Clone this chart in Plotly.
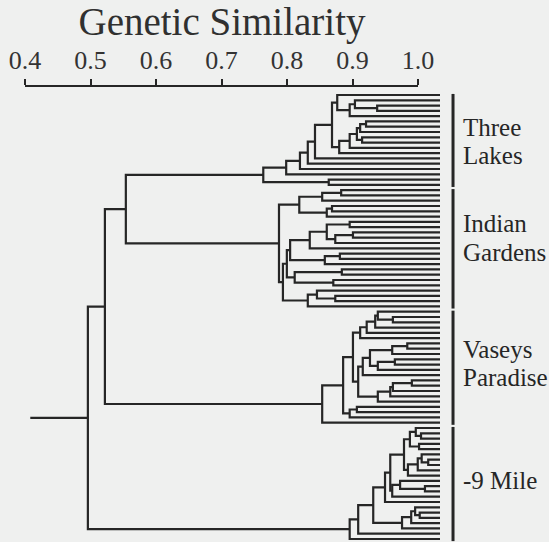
import plotly.graph_objects as go

# ---------------- data ----------------
GROUPS = ["Three Lakes", "Indian Gardens", "Vaseys Paradise", "-9 Mile"]
GROUP_LABEL_LINES = [["Three", "Lakes"], ["Indian", "Gardens"], ["Vaseys", "Paradise"], ["-9 Mile"]]
LEAF_COUNTS = [18, 23, 22, 22]
LEAF_SIMILARITY = 1.0

# merges inside each group: name -> (child_a, child_b, similarity)
# ints are leaves (local index, top to bottom); strings are earlier merges; the last one is the group root
THREE_LAKES = {
    "a": (2, 3, 0.904), "b": (1, "a", 0.870), "c": ("b", 4, 0.862), "d": (0, "c", 0.843),
    "e": (5, 6, 0.887), "f": ("e", 7, 0.878), "i": (8, 9, 0.881), "g": ("f", "i", 0.873),
    "h0": ("g", 10, 0.862), "h": ("h0", 11, 0.846), "j": ("d", "h", 0.835),
    "k": ("j", 12, 0.809), "l": ("k", 13, 0.798), "m": ("l", 14, 0.786), "n": ("m", 15, 0.765),
    "p": (16, 17, 0.830), "root": ("n", "p", 0.730),
}
INDIAN_GARDENS = {
    "q1": (0, 1, 0.849), "q2": ("q1", 2, 0.820), "q3": (3, 4, 0.835), "q4": ("q3", 5, 0.827),
    "q5": ("q2", "q4", 0.785),
    "r1": (6, 7, 0.862), "r2": (8, 9, 0.867), "r3": ("r2", 10, 0.840), "r4": ("r1", "r3", 0.827),
    "r5": ("r4", 11, 0.801), "r6a": (12, 13, 0.847), "r6": ("r6a", 14, 0.824), "r7": ("r5", "r6", 0.771),
    "s1": (15, 16, 0.850), "s2": (17, 18, 0.837), "s3": ("s1", "s2", 0.778), "r8": ("r7", "s3", 0.766),
    "t1": (20, 21, 0.840), "t2": (19, "t1", 0.812), "t3": ("t2", 22, 0.798),
    "u": ("r8", "t3", 0.760), "root": ("q5", "u", 0.754),
}
VASEYS_PARADISE = {
    "v1": (1, 2, 0.928), "v2": (0, "v1", 0.905), "v3": ("v2", 3, 0.901), "v4": ("v3", 4, 0.888),
    "v5": ("v4", 5, 0.878),
    "m1": (6, 7, 0.950), "m2": ("m1", 8, 0.927), "m3": (9, 10, 0.931), "m4": ("m3", 11, 0.905),
    "m5": ("m2", "m4", 0.893), "m6": ("m5", 12, 0.882),
    "m7": (13, 14, 0.957), "m8": ("m7", 15, 0.928), "m9": ("m8", 16, 0.924), "m10": ("m9", 17, 0.905),
    "m11": ("m6", "m10", 0.875), "n1": ("v5", "m11", 0.867),
    "w1": (18, 19, 0.873), "w2": ("w1", 20, 0.862), "n2": ("n1", "w2", 0.852),
    "root": ("n2", 21, 0.820),
}
NINE_MILE = {
    "a1": (1, 2, 0.971), "a2": (0, "a1", 0.963), "a3": (3, 4, 0.968), "a4": ("a2", "a3", 0.954),
    "b1": (6, 7, 0.982), "b2": (5, "b1", 0.972), "b3": ("b2", 8, 0.966), "b4": ("b3", 9, 0.951),
    "a5": ("a4", "b4", 0.945),
    "c1": (11, 12, 0.977), "c2": (10, "c1", 0.939), "c3": ("c2", 13, 0.927),
    "d1": ("a5", "c3", 0.924), "d2": ("d1", 14, 0.916),
    "e1": (16, 17, 0.969), "e2": (15, "e1", 0.962), "e3": ("e2", 18, 0.956), "e4": ("e3", 19, 0.942),
    "f1": ("d2", "e4", 0.898), "g1": ("f1", 20, 0.875), "root": ("g1", 21, 0.862),
}
GROUP_MERGES = [THREE_LAKES, INDIAN_GARDENS, VASEYS_PARADISE, NINE_MILE]

TOP_MERGES = {
    "X1": ("Three Lakes", "Indian Gardens", 0.520),
    "X2": ("X1", "Vaseys Paradise", 0.488),
    "R": ("X2", "-9 Mile", 0.462),
}
ROOT_STUB_END = 0.374

TICK_VALUES = [0.4, 0.5, 0.6, 0.7, 0.8, 0.9, 1.0]
TICK_LABELS = ["0.4", "0.5", "0.6", "0.7", "0.8", "0.9", "1.0"]
TITLE = "Genetic Similarity"

# ---------------- layout constants ----------------
W, H = 549, 542
FONT = "Liberation Serif, Times New Roman, serif"
INK = "#262626"
BG = "#eff0ef"
N = sum(LEAF_COUNTS)
PX_PER_UNIT = 654.5
LEAF_PX = 440.0
X_RANGE = [LEAF_SIMILARITY - LEAF_PX / PX_PER_UNIT, LEAF_SIMILARITY + (W - LEAF_PX) / PX_PER_UNIT]
TOP_PX, BOT_PX = 95.0, 539.0
STEP = (BOT_PX - TOP_PX) / (N - 1)
Y_RANGE = [(N - 1) + (H - BOT_PX) / STEP, -TOP_PX / STEP]

# ---------------- build dendrogram paths ----------------
xs, ys = [], []


def bracket(pa, pb, s):
    (xa, ya), (xb, yb) = pa, pb
    xs.extend([xa, s, s, xb, None])
    ys.extend([ya, ya, yb, yb, None])
    return (s, (ya + yb) / 2.0)


pos = {}
offset = 0
for gname, merges, n in zip(GROUPS, GROUP_MERGES, LEAF_COUNTS):
    local = {}
    for name, (a, b, s) in merges.items():
        pa = (LEAF_SIMILARITY, offset + a) if isinstance(a, int) else local[a]
        pb = (LEAF_SIMILARITY, offset + b) if isinstance(b, int) else local[b]
        local[name] = bracket(pa, pb, s)
    pos[gname] = local[list(merges)[-1]]
    offset += n

for name, (a, b, s) in TOP_MERGES.items():
    pos[name] = bracket(pos[a], pos[b], s)
rs, ry = pos[list(TOP_MERGES)[-1]]
xs.extend([ROOT_STUB_END, rs, None])
ys.extend([ry, ry, None])

fig = go.Figure()
fig.add_trace(go.Scatter(x=xs, y=ys, mode="lines", line=dict(color=INK, width=2.2),
                         hoverinfo="skip", showlegend=False))

# group bars
BAR_X = 1.0199
offset = 0
for n in LEAF_COUNTS:
    fig.add_trace(go.Scatter(x=[BAR_X, BAR_X], y=[offset - 0.2, offset + n - 1 + 0.4], mode="lines",
                             line=dict(color=INK, width=3), hoverinfo="skip", showlegend=False))
    offset += n

# invisible trace to carry the scale axis
fig.add_trace(go.Scatter(x=TICK_VALUES, y=[0] * len(TICK_VALUES), xaxis="x2", mode="markers",
                         marker=dict(opacity=0), hoverinfo="skip", showlegend=False))

# group labels (pixel-row positions of each text line)
LABEL_ROWS_PX = [[127.5, 155.0], [224.0, 252.5], [349.0, 377.5], [480.5]]
annotations = []
for lines, rows in zip(GROUP_LABEL_LINES, LABEL_ROWS_PX):
    for txt, r in zip(lines, rows):
        annotations.append(dict(text=txt, x=1.0325, xref="x", y=1 - r / H, yref="paper",
                                xanchor="left", yanchor="middle", showarrow=False,
                                font=dict(family=FONT, size=25, color=INK)))

fig.update_layout(
    width=W, height=H, margin=dict(l=0, r=0, t=0, b=0, autoexpand=False),
    paper_bgcolor=BG, plot_bgcolor="rgba(0,0,0,0)", showlegend=False,
    title=dict(text=TITLE, x=222 / W, xref="paper", xanchor="center", y=1 - 21 / H,
               yref="paper", yanchor="middle",
               font=dict(family=FONT, size=39, color="#303030")),
    xaxis=dict(range=X_RANGE, visible=False, domain=[0, 1], automargin=False),
    xaxis2=dict(domain=[25 / W, 418 / W], range=[0.4, 1.0], side="top", automargin=False,
                anchor="free", position=1 - 86 / H, showline=True, linewidth=2, linecolor=INK,
                ticks="outside", ticklen=6, tickwidth=2, tickcolor=INK,
                tickvals=TICK_VALUES, ticktext=TICK_LABELS, showgrid=False, zeroline=False,
                tickfont=dict(family=FONT, size=26, color="#333333")),
    yaxis=dict(range=Y_RANGE, visible=False, automargin=False),
    annotations=annotations,
)

fig.write_html("out.html", config={"displayModeBar": False},
               post_script="document.body.style.margin='0';document.body.style.background='%s';" % BG)
